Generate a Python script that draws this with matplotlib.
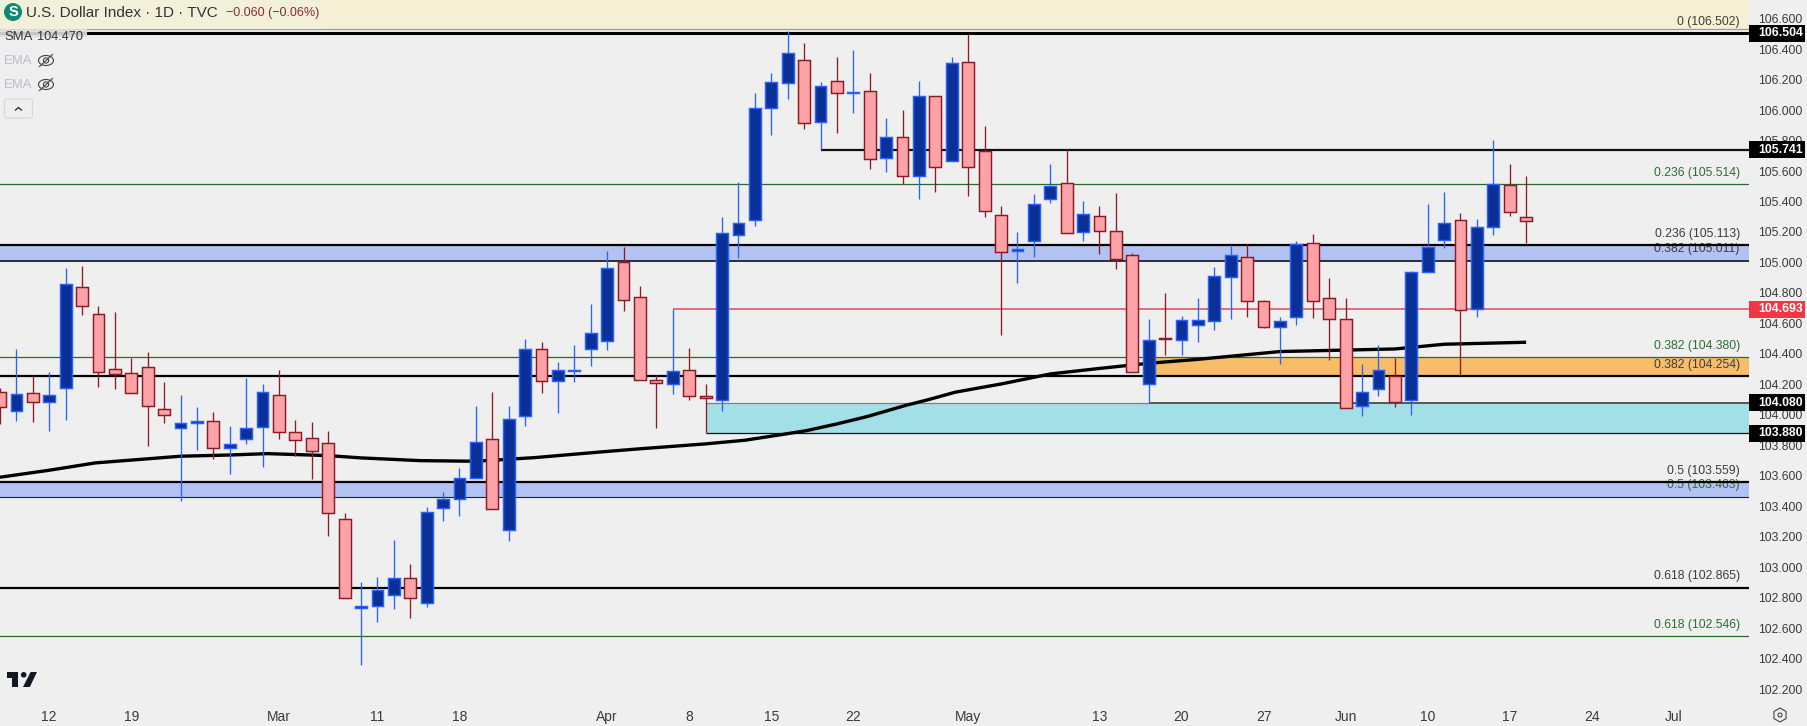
import matplotlib
matplotlib.use("Agg")
import matplotlib.pyplot as plt
from matplotlib import font_manager as fm
from matplotlib.patches import Rectangle, Circle, Ellipse, Polygon, RegularPolygon, FancyBboxPatch
from matplotlib.transforms import Affine2D

# ---------- data ----------
opens = [104.148,104.023,104.141,104.082,104.174,104.837,104.660,104.301,104.272,104.312,104.036,103.911,103.944,103.957,103.780,103.839,103.918,104.128,103.885,103.846,103.813,103.314,102.730,102.743,102.815,102.927,102.763,103.386,103.445,103.583,103.839,103.242,103.990,104.430,104.220,104.290,104.434,
         104.487,105.001,104.771,104.226,104.205,104.292,104.121,104.095,105.183,105.277,106.012,106.176,106.327,105.924,106.189,106.115,106.123,105.688,105.822,105.570,106.091,105.668,106.314,105.730,105.310,105.073,105.143,105.419,105.520,105.202,105.303,105.205,105.047,104.205,104.504,104.493,104.592,104.614,104.903,105.034,104.745,104.574,104.640,105.126,104.765,104.627,104.056,104.167,104.253,104.095,104.935,105.145,105.277,104.693,105.231,105.506,105.296]
highs = [104.174,104.432,104.259,104.281,104.962,104.977,104.714,104.675,104.371,104.412,104.216,104.130,104.051,104.019,103.927,104.242,104.202,104.294,103.966,103.953,103.894,103.356,102.903,102.936,103.178,103.021,103.395,103.494,103.651,104.058,104.150,104.058,104.498,104.478,104.349,104.458,104.728,
         105.075,105.102,104.846,104.261,104.693,104.439,104.202,105.299,105.528,106.113,106.244,106.520,106.441,106.185,106.349,106.395,106.244,105.948,106.001,106.191,106.091,106.349,106.498,105.896,105.371,105.200,105.450,105.647,105.745,105.404,105.371,105.456,105.062,104.629,104.800,104.649,104.767,104.970,105.115,105.121,104.754,104.642,105.141,105.187,104.898,104.767,104.334,104.456,104.371,104.944,105.384,105.463,105.323,105.285,105.804,105.647,105.568]
lows = [103.942,103.962,103.953,103.896,103.968,104.655,104.185,104.170,104.141,103.798,103.946,103.437,103.769,103.712,103.614,103.811,103.660,103.844,103.732,103.581,103.207,102.796,102.360,102.642,102.728,102.666,102.741,103.305,103.336,103.583,103.380,103.174,103.925,104.146,104.012,104.216,104.318,
        104.426,104.682,104.226,103.914,104.139,104.100,103.879,104.027,105.032,105.240,105.839,106.073,105.878,105.745,105.852,105.983,105.614,105.594,105.513,105.417,105.463,105.668,105.436,105.299,104.524,104.865,105.036,105.391,105.196,105.141,105.056,104.957,104.279,104.082,104.393,104.393,104.478,104.557,104.629,104.642,104.570,104.334,104.590,104.636,104.360,104.043,103.995,104.124,104.054,104.001,104.935,105.097,104.259,104.642,105.180,105.305,105.128]
closes = [104.051,104.135,104.082,104.128,104.857,104.712,104.279,104.270,104.141,104.056,103.997,103.944,103.957,103.780,103.806,103.911,104.148,103.885,103.833,103.765,103.353,102.796,102.743,102.848,102.927,102.796,103.360,103.445,103.583,103.820,103.380,103.970,104.430,104.220,104.292,104.294,104.535,
          104.962,104.752,104.226,104.207,104.286,104.121,104.108,105.191,105.257,106.012,106.183,106.373,105.918,106.156,106.115,106.119,105.682,105.822,105.570,106.091,105.629,106.307,105.629,105.340,105.071,105.086,105.382,105.500,105.196,105.316,105.209,105.021,104.279,104.489,104.500,104.620,104.620,104.909,105.047,104.745,104.579,104.614,105.119,104.745,104.627,104.043,104.148,104.292,104.086,104.935,105.100,105.257,104.686,105.235,105.513,105.329,105.270]

sma_idx = [0,3,5.8,11,14,16.3,20,22,25.6,29,32.6,36.6,38.9,43,45.4,47.75,49.15,51,52.9,55.2,56.6,58.2,59.9,61,64,66.9,69,70,73,78,85,88,93]
sma_val = [103.590,103.636,103.684,103.728,103.736,103.745,103.732,103.717,103.699,103.695,103.719,103.756,103.776,103.809,103.833,103.872,103.896,103.940,103.990,104.062,104.100,104.148,104.181,104.202,104.268,104.303,104.327,104.338,104.364,104.415,104.432,104.463,104.476]

x_tick_idx = [3,8,17,23,28,37,42,47,52,59,67,72,77,82,87,92,97,102]
x_tick_lab = ['12','19','Mar','11','18','Apr','8','15','22','May','13','20','27','Jun','10','17','24','Jul']
y_ticks = [102.2,102.4,102.6,102.8,103.0,103.2,103.4,103.6,103.8,104.0,104.2,104.4,104.6,104.8,105.0,105.2,105.4,105.6,105.8,106.0,106.2,106.4,106.6]

fib_labels = ['0 (106.502)','0.236 (105.514)','0.236 (105.113)','0.382 (105.011)','0.382 (104.380)','0.382 (104.254)','0.5 (103.559)','0.5 (103.463)','0.618 (102.865)','0.618 (102.546)']
fib_prices = [106.502,105.514,105.113,105.011,104.380,104.254,103.559,103.463,102.865,102.546]
fib_green = [False,True,False,False,True,False,False,True,False,True]

price_tags = [106.504,105.741,104.693,104.080,103.880]
tag_colors = ['#000000','#000000','#f23645','#000000','#000000']

# levels
top_line, res_line, red_line = 106.504, 105.741, 104.693
blue_band_hi = (105.113, 103.559)
blue_band_lo = (105.011, 103.463)
orange_band = (104.380, 104.254)
cyan_band = (104.080, 103.880)
black_full = [104.254, 102.865]
green_full = [105.514, 104.380, 102.546]
res_start, red_start, cyan_start, orange_start = 50, 41, 43, 70

# ---------- style ----------
W, H = 1807, 726
BG = '#efefef'
AX_R, AX_B = 1749, 698
PX = 152.35            # pixels per index point
BAR_PX = 16.41         # pixels per bar
names = {f.name for f in fm.fontManager.ttflist}
FONT = 'Liberation Sans Narrow' if 'Liberation Sans Narrow' in names else 'Liberation Sans'
NARROW = FONT == 'Liberation Sans Narrow'
plt.rcParams['font.family'] = [FONT, 'DejaVu Sans']
AXFS = 10.2 if NARROW else 8.8
FIBFS = 10.1 if NARROW else 8.7

fig = plt.figure(figsize=(W/100, H/100), dpi=100, facecolor=BG)
ax = fig.add_axes([0, 1-AX_B/H, AX_R/W, AX_B/H], facecolor=BG)
ax.set_xlim(0, AX_R/BAR_PX)
ytop = 106.504 + 33.3/PX
ax.set_ylim(106.504 - (AX_B-33.3)/PX, ytop)
for s in ax.spines.values():
    s.set_visible(False)
pxt = Affine2D().scale(1/W, -1/H).translate(0, 1) + fig.transFigure

# top banner
ax.axhspan(106.504 + 4.3/PX, ytop, color='#f5f0d3', lw=0, zorder=1)
ax.axhline(106.504 + 4.3/PX, color='#9a9a96', lw=0.9, zorder=1.1)

# bands
ax.axhspan(blue_band_lo[0], blue_band_hi[0], color='#b2c2f2', lw=0, zorder=1)
ax.axhspan(blue_band_lo[1], blue_band_hi[1], color='#b2c2f2', lw=0, zorder=1)
xmax = AX_R/BAR_PX
ax.fill_between([orange_start, xmax], orange_band[1], orange_band[0], color='#f7bd68', lw=0, zorder=1)
ax.fill_between([cyan_start, xmax], cyan_band[1], cyan_band[0], color='#a2dfe6', lw=0, zorder=1)

# lines
ax.axhline(top_line, color='black', lw=2.2, zorder=2)
ax.axhline(blue_band_hi[0], color='black', lw=1.6, zorder=2)
ax.axhline(blue_band_lo[0], color='black', lw=1.1, zorder=2)
ax.axhline(blue_band_hi[1], color='black', lw=1.6, zorder=2)
ax.axhline(blue_band_lo[1], color='#14262a', lw=0.8, zorder=2)
for v in black_full:
    ax.axhline(v, color='black', lw=1.6, zorder=2)
for v in green_full:
    ax.axhline(v, color='#2a6a2a', lw=0.9, zorder=2)
ax.hlines(res_line, res_start, xmax, color='#111111', lw=1.6, zorder=2)
ax.hlines(red_line, red_start, xmax, color='#e0485a', lw=1.1, zorder=2)
ax.hlines(cyan_band[0], cyan_start, orange_start, color='#808080', lw=0.9, zorder=2)
ax.hlines(cyan_band[0], orange_start, xmax, color='#333333', lw=1.1, zorder=2)
ax.hlines(cyan_band[1], cyan_start, xmax, color='#111111', lw=0.9, zorder=2)

# SMA
ax.plot(sma_idx, sma_val, color='black', lw=2.4, zorder=2.5, solid_capstyle='butt')

# candles
idx = list(range(len(opens)))
up = [c >= o for o, c in zip(opens, closes)]
wick_c = ['#2962ff' if u else '#8e1a26' for u in up]
ax.vlines(idx, lows, highs, colors=wick_c, lw=0.95, zorder=3)
ax.bar(idx, [abs(c-o) for o, c in zip(opens, closes)], bottom=[min(o, c) for o, c in zip(opens, closes)],
       width=0.72, color=['#0b3199' if u else '#fca3a8' for u in up],
       edgecolor=wick_c, linewidth=1.05, zorder=4)

# axes ticks
ax.yaxis.tick_right()
ax.set_yticks(y_ticks)
ax.set_yticklabels([f'{v:.3f}' for v in y_ticks])
ax.set_xticks(x_tick_idx)
ax.set_xticklabels(x_tick_lab)
ax.tick_params(axis='y', length=0, pad=6.4, labelsize=AXFS, labelcolor='#3a3a3a')
ax.tick_params(axis='x', length=0, pad=8.6, labelsize=10.0, labelcolor='#3a3a3a')

# fib labels
for lab, p, g in zip(fib_labels, fib_prices, fib_green):
    ax.annotate(lab, xy=(1, p), xycoords=ax.get_yaxis_transform(), xytext=(-6.6, 8.2), textcoords='offset points',
                ha='right', va='center', fontsize=FIBFS, color='#2e6b34' if g else '#3c3c3c', zorder=1.5 if p in (105.011, 103.463) else 5)

# price tags
ytr = ax.get_yaxis_transform()
for p, c in zip(price_tags, tag_colors):
    ax.add_patch(Rectangle((1, p-8.5/PX), 56/AX_R, 17/PX, transform=ytr, color=c, lw=0, clip_on=False, zorder=9))
    ax.text(1+9/AX_R, p, f'{p:.3f}', transform=ytr, color='white', fontsize=AXFS, fontweight='bold',
            ha='left', va='center', zorder=10, clip_on=False)

# ---- header / decorations in pixel space
def padd(p):
    p.set_transform(pxt)
    p.set_clip_on(False)
    p.set_zorder(20)
    fig.add_artist(p)

padd(Rectangle((0, 0), 322, 29, color='#f3f0d9', lw=0))
padd(Rectangle((0, 29), 87, 8, color='#dedede', lw=0, alpha=0.9))
padd(Ellipse((13, 12), 18, 18, color='#0d8a75', lw=0))
fig.text(13, 12.5, 'S', transform=pxt, ha='center', va='center', color='white', fontsize=10.5, fontweight='bold', zorder=21)
fig.text(26, 13, 'U.S. Dollar Index · 1D · TVC', transform=pxt, va='center', color='#333333', fontsize=11.0, zorder=21)
fig.text(226, 13, '−0.060 (−0.06%)', transform=pxt, va='center', color='#8c2a33', fontsize=9.0, zorder=21)
fig.text(4, 37, 'SMA', transform=pxt, va='center', color='#333333', fontsize=9.4, zorder=21)
fig.text(37, 37, '104.470', transform=pxt, va='center', color='#333333', fontsize=9.2, zorder=21)
for yy in (60.5, 84.5):
    fig.text(4, yy, 'EMA', transform=pxt, va='center', color='#b9bcc4', fontsize=9.4, zorder=21)
    padd(Ellipse((46, yy), 15, 10, fill=False, ec='#444444', lw=0.8))
    padd(Circle((46, yy), 2.6, fill=False, ec='#444444', lw=0.8))
    padd(Polygon([(39, yy+6.5), (53, yy-6.5)], closed=False, fill=False, ec='#444444', lw=0.8))
padd(FancyBboxPatch((4.5, 99), 28, 19, boxstyle='round,pad=0,rounding_size=2.5', fc='none', ec='#d4d6dc', lw=0.8))
padd(Polygon([(15, 110.5), (18.5, 107.5), (22, 110.5)], closed=False, fill=False, ec='#333333', lw=1.0))

# TV logo
padd(Polygon([(7, 672), (18.4, 672), (18.4, 687), (12.2, 687), (12.2, 677.5), (7, 677.5)], color='#131722', lw=0))
padd(Circle((23.7, 674.8), 2.8, color='#131722', lw=0))
padd(Polygon([(30.6, 672), (37, 672), (29.8, 687), (23, 687)], color='#131722', lw=0))

# settings icon
padd(RegularPolygon((1780, 715), 6, radius=7, orientation=0, fill=False, ec='#444444', lw=0.8))
padd(Circle((1780, 715), 2, fill=False, ec='#444444', lw=0.8))

fig.savefig('out.png', dpi=100, facecolor=BG)
